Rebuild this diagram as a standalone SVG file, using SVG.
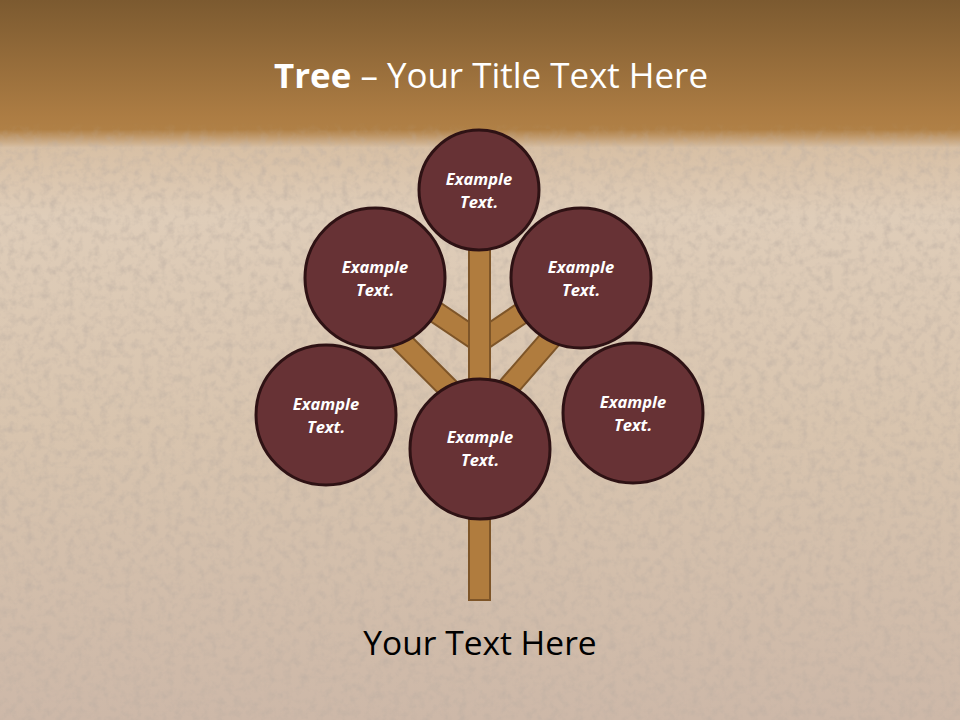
<svg xmlns="http://www.w3.org/2000/svg" width="960" height="720" viewBox="0 0 960 720">
<defs>
<linearGradient id="bg" x1="0" y1="0" x2="0" y2="1">
<stop offset="0" stop-color="#7c5a30"/>
<stop offset="0.16" stop-color="#ac7c43"/>
<stop offset="0.18" stop-color="#b08046"/>
<stop offset="0.205" stop-color="#d8c0a5"/>
<stop offset="0.3" stop-color="#dfcdb9"/>
<stop offset="0.6" stop-color="#d8c4ae"/>
<stop offset="1" stop-color="#cdb8a8"/>
</linearGradient>
<filter id="tex" x="0" y="0" width="100%" height="100%">
<feTurbulence type="fractalNoise" baseFrequency="0.12" numOctaves="3" seed="4" result="n"/>
<feColorMatrix type="matrix" values="0 0 0 0 0.5  0 0 0 0 0.42  0 0 0 0 0.36  0 0 0 -2.2 1.25"/>
</filter>
<linearGradient id="texmask" x1="0" y1="0" x2="0" y2="1">
<stop offset="0" stop-color="#000"/>
<stop offset="0.17" stop-color="#000"/>
<stop offset="0.21" stop-color="#fff"/>
<stop offset="1" stop-color="#fff"/>
</linearGradient>
<mask id="m"><rect width="960" height="720" fill="url(#texmask)"/></mask>
</defs>
<style>
.branch{fill:#b07c3e;stroke:#7e5528;stroke-width:2}
.node circle{fill:#673235;stroke:#2e1214;stroke-width:3}
.node text{font-family:"Open Sans","Liberation Sans",sans-serif;font-weight:bold;font-style:italic;font-size:16.5px;fill:#ffffff;text-anchor:middle}
</style>
<rect width="960" height="720" fill="url(#bg)"/>
<rect width="960" height="720" fill="#000" filter="url(#tex)" opacity="0.5" mask="url(#m)"/>
<text x="491" y="88" font-family="Open Sans, Liberation Sans, sans-serif" font-size="34.5" fill="#ffffff" text-anchor="middle" textLength="434" lengthAdjust="spacingAndGlyphs"><tspan font-weight="bold">Tree</tspan> – Your Title Text Here</text>
<g id="connectors">
<rect class="branch" x="-10.5" y="0" width="21" height="150" transform="translate(473,413) rotate(135)"/>
<rect class="branch" x="-10.5" y="0" width="21" height="150" transform="translate(486,413) rotate(-139)"/>
<rect class="branch" x="-10.5" y="0" width="21" height="70" transform="translate(474,338) rotate(124)"/>
<rect class="branch" x="-10.5" y="0" width="21" height="70" transform="translate(485,338) rotate(-124)"/>
<rect class="branch" x="469" y="240" width="21" height="360"/>
</g>
<g id="node-top" class="node"><circle cx="479" cy="190" r="60"/><text x="479" y="185">Example</text><text x="479" y="208">Text.</text></g>
<g id="node-upper-left" class="node"><circle cx="375" cy="278" r="70"/><text x="375" y="273">Example</text><text x="375" y="296">Text.</text></g>
<g id="node-upper-right" class="node"><circle cx="581" cy="278" r="70"/><text x="581" y="273">Example</text><text x="581" y="296">Text.</text></g>
<g id="node-lower-left" class="node"><circle cx="326" cy="415" r="70"/><text x="326" y="410">Example</text><text x="326" y="433">Text.</text></g>
<g id="node-lower-right" class="node"><circle cx="633" cy="413" r="70"/><text x="633" y="408">Example</text><text x="633" y="431">Text.</text></g>
<g id="node-center" class="node"><circle cx="480" cy="449" r="70"/><text x="480" y="443">Example</text><text x="480" y="466">Text.</text></g>
<text x="480" y="655" font-family="Open Sans, Liberation Sans, sans-serif" font-size="33.5" fill="#000000" text-anchor="middle">Your Text Here</text>
</svg>
